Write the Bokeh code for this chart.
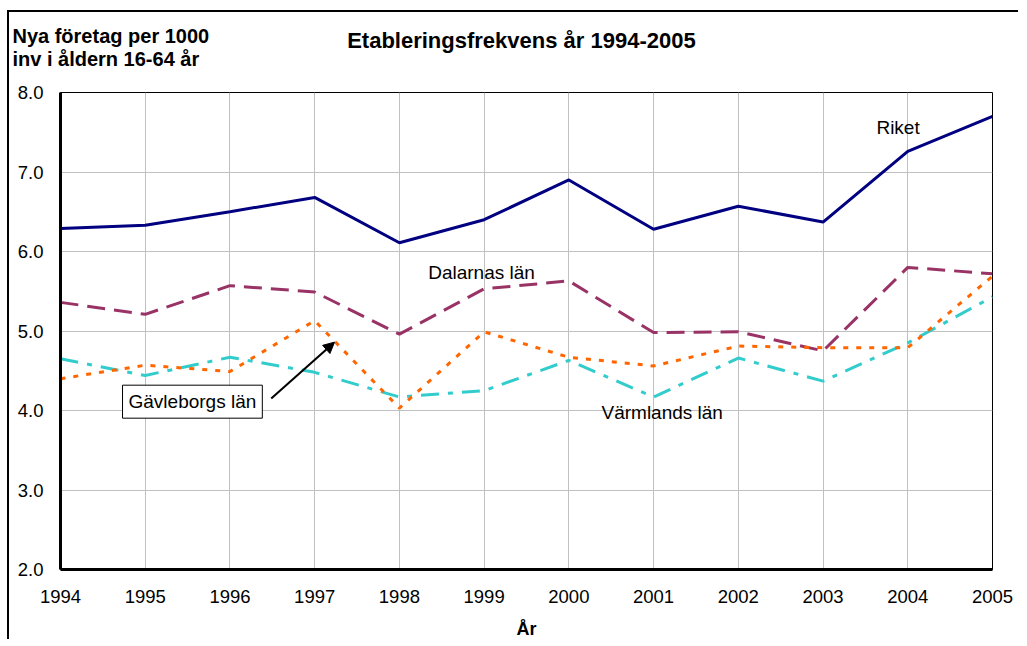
from bokeh.plotting import figure
from bokeh.models import Range1d, FixedTicker, Label, Arrow, NormalHead, PrintfTickFormatter
from bokeh.embed import file_html
from bokeh.resources import INLINE

# ---- data ----
years = [1994, 1995, 1996, 1997, 1998, 1999, 2000, 2001, 2002, 2003, 2004, 2005]
riket = [6.29, 6.33, 6.50, 6.68, 6.11, 6.40, 6.90, 6.28, 6.57, 6.37, 7.26, 7.70]
dalarnas = [5.36, 5.21, 5.57, 5.49, 4.96, 5.53, 5.63, 4.98, 4.99, 4.75, 5.80, 5.72]
gavleborgs = [4.40, 4.57, 4.49, 5.13, 4.03, 4.99, 4.67, 4.56, 4.81, 4.79, 4.79, 5.69]
varmlands = [4.65, 4.44, 4.67, 4.48, 4.17, 4.25, 4.63, 4.17, 4.66, 4.37, 4.85, 5.43]
y_ticks = [2, 3, 4, 5, 6, 7, 8]

title_text = "Etableringsfrekvens år 1994-2005"
ytitle_lines = ["Nya företag per 1000", "inv i åldern 16-64 år"]
xtitle = "År"

FONT = "Liberation Sans"

p = figure(width=1011, height=629,
           x_range=Range1d(1994, 2005), y_range=Range1d(2, 8),
           output_backend="svg", toolbar_location=None,
           min_border_left=51, min_border_right=28,
           min_border_top=80, min_border_bottom=70,
           background_fill_color="white", border_fill_color="white")

# outer frame of the embedded chart (left and top edges)
p.styles = {"margin-left": "7px", "margin-top": "10px",
            "border-left": "2px solid black", "border-top": "2px solid black"}

p.outline_line_color = "black"
p.outline_line_width = 1

# axes
for ax in (p.xaxis[0], p.yaxis[0]):
    ax.axis_line_width = 3
    ax.axis_line_color = "black"
    ax.major_tick_line_color = None
    ax.minor_tick_line_color = None
    ax.major_label_text_font = FONT
    ax.major_label_text_font_size = "18.5px"
    ax.major_label_text_color = "black"

p.xaxis.ticker = FixedTicker(ticks=years)
p.xaxis.major_label_standoff = 14
p.xaxis.axis_label = xtitle
p.xaxis.axis_label_text_font = FONT
p.xaxis.axis_label_text_font_style = "bold"
p.xaxis.axis_label_text_font_size = "18px"
p.xaxis.axis_label_text_color = "black"
p.xaxis.axis_label_standoff = 13

p.yaxis.ticker = FixedTicker(ticks=y_ticks)
p.yaxis.formatter = PrintfTickFormatter(format="%.1f")
p.yaxis.major_label_standoff = 11

p.xgrid.ticker = FixedTicker(ticks=years)
p.ygrid.ticker = FixedTicker(ticks=y_ticks)
p.xgrid.grid_line_color = "#c0c0c0"
p.ygrid.grid_line_color = "#c0c0c0"

# series
p.line(years, riket, line_color="#000080", line_width=3)
p.line(years, dalarnas, line_color="#993366", line_width=3, line_dash="18 9")
p.line(years, varmlands, line_color="#33CCCC", line_width=3, line_dash="18 9 5 9")
p.line(years, gavleborgs, line_color="#FF6600", line_width=3, line_dash="5 8")

# texts
def lab(x, y, text, size="19px", style="normal", align="left", place=None, **kw):
    l = Label(x=x, y=y, text=text, text_font=FONT, text_font_size=size,
              text_font_style=style, text_align=align, text_baseline="middle",
              text_color="black", **kw)
    if place:
        p.add_layout(l, place)
    else:
        p.add_layout(l)
    return l

# header texts above the plot area (placed in the top side panel so they are not clipped)
lab(1999.44, 8.651, title_text, size="22px", style="bold", align="center", place="above")
lab(1993.433, 8.714, ytitle_lines[0], size="20px", style="bold", place="above")
lab(1993.433, 8.426, ytitle_lines[1], size="20px", style="bold", place="above")

lab(2003.63, 7.56, "Riket")
lab(1998.34, 5.73, "Dalarnas län")
lab(2000.385, 3.98, "Värmlands län")
lab(1994.732, 4.111, "Gävleborgs län", border_line_color="black",
    border_line_width=1, background_fill_color="white", padding=6)

p.add_layout(Arrow(x_start=1996.487, y_start=4.151, x_end=1997.234, y_end=4.860,
                   line_color="black", line_width=2,
                   end=NormalHead(size=11, fill_color="black", line_color="black")))

open("out.html", "w").write(file_html(p, INLINE))
